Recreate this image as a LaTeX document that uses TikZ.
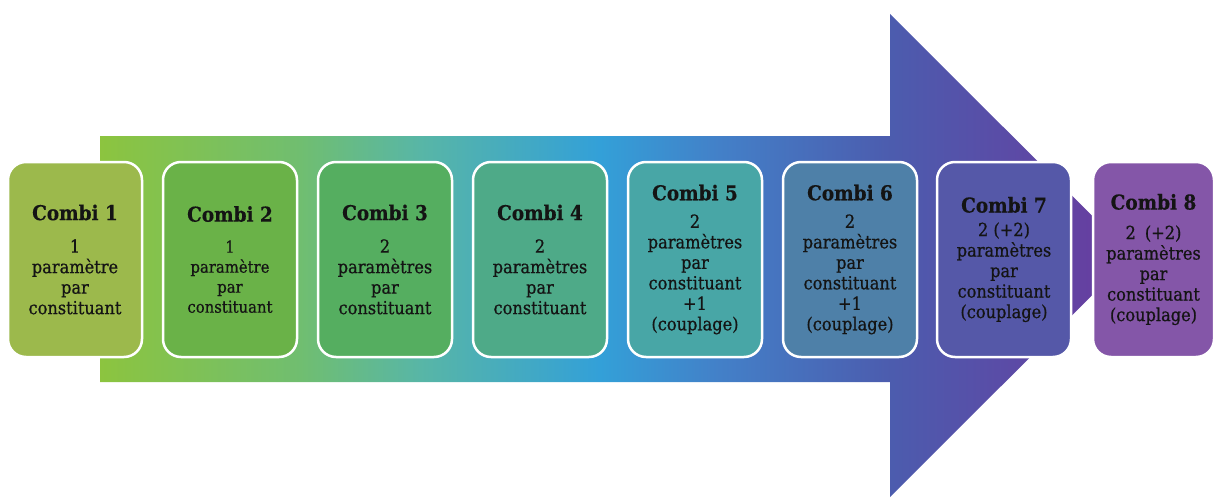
\documentclass[tikz,border=0pt]{standalone}
\usepackage{fontspec}
\setmainfont{DejaVu Serif}[FakeStretch=0.9, UprightFeatures={FakeBold=0.7}, BoldFeatures={FakeBold=0.4}]
\definecolor{ag0}{HTML}{8CC43F}
\definecolor{ag1}{HTML}{70BE70}
\definecolor{ag2}{HTML}{58B6A6}
\definecolor{ag3}{HTML}{33A0D8}
\definecolor{ag4}{HTML}{4380C8}
\definecolor{ag5}{HTML}{4C5CAE}
\definecolor{ag6}{HTML}{6A3A9E}
\definecolor{b1}{HTML}{9CB94C}
\definecolor{b2}{HTML}{6AB248}
\definecolor{b3}{HTML}{55AE60}
\definecolor{b4}{HTML}{4EAA88}
\definecolor{b5}{HTML}{48A6A6}
\definecolor{b6}{HTML}{4E80A8}
\definecolor{b7}{HTML}{5558A8}
\definecolor{b8}{HTML}{8456A8}
\definecolor{txt}{HTML}{141414}
\pgfdeclarehorizontalshading{arrowshade}{100bp}{
  color(0bp)=(ag0); color(25bp)=(ag0); color(34.7bp)=(ag1); color(40.5bp)=(ag2);
  color(49.2bp)=(ag3); color(55bp)=(ag4); color(63.3bp)=(ag5); color(75bp)=(ag6);
  color(100bp)=(ag6)}
\newcommand{\combititle}[1]{{\fontsize{20.5}{21}\selectfont\bfseries #1}}
\begin{document}
\begin{tikzpicture}[x=1pt,y=-1pt,
  combibox/.style={draw=white, line width=2.5pt, rounded corners=18pt,
    minimum width=134pt, minimum height=195pt, inner sep=0pt, align=center,
    text=txt, font=\fontsize{18}{20.5}\selectfont}]
\useasboundingbox (0,0) rectangle (1214,500);
% big arrow
\path[shading=arrowshade] (100,136) -- (890,136) -- (890,14) -- (1132,255.5)
  -- (890,497) -- (890,382) -- (100,382) -- cycle;
% boxes
\node[combibox, fill=b1] (c1) at (75,259.5)
  {\combititle{Combi 1}\\[12pt]1\\paramètre\\par\\constituant};
\node[combibox, fill=b2, font=\fontsize{16.5}{20}\selectfont] (c2) at (230,259.5)
  {\combititle{Combi 2}\\[11pt]1\\paramètre\\par\\constituant};
\node[combibox, fill=b3] (c3) at (385,259.5)
  {\combititle{Combi 3}\\[12pt]2\\paramètres\\par\\constituant};
\node[combibox, fill=b4] (c4) at (540,259.5)
  {\combititle{Combi 4}\\[12pt]2\\paramètres\\par\\constituant};
\node[combibox, fill=b5] (c5) at (695,259.5)
  {\combititle{Combi 5}\\[7pt]2\\paramètres\\par\\constituant\\+1\\(couplage)};
\node[combibox, fill=b6] (c6) at (850,259.5)
  {\combititle{Combi 6}\\[7pt]2\\paramètres\\par\\constituant\\+1\\(couplage)};
\node[combibox, fill=b7] (c7) at (1004,259.5)
  {\combititle{Combi 7}\\[3pt]2 (+2)\\paramètres\\par\\constituant\\(couplage)};
\node[combibox, fill=b8, minimum width=121pt] (c8) at (1153.5,259.5)
  {\combititle{Combi 8}\\[9pt]2\enspace(+2)\\paramètres\\par\\constituant\\(couplage)};
\end{tikzpicture}
\end{document}
